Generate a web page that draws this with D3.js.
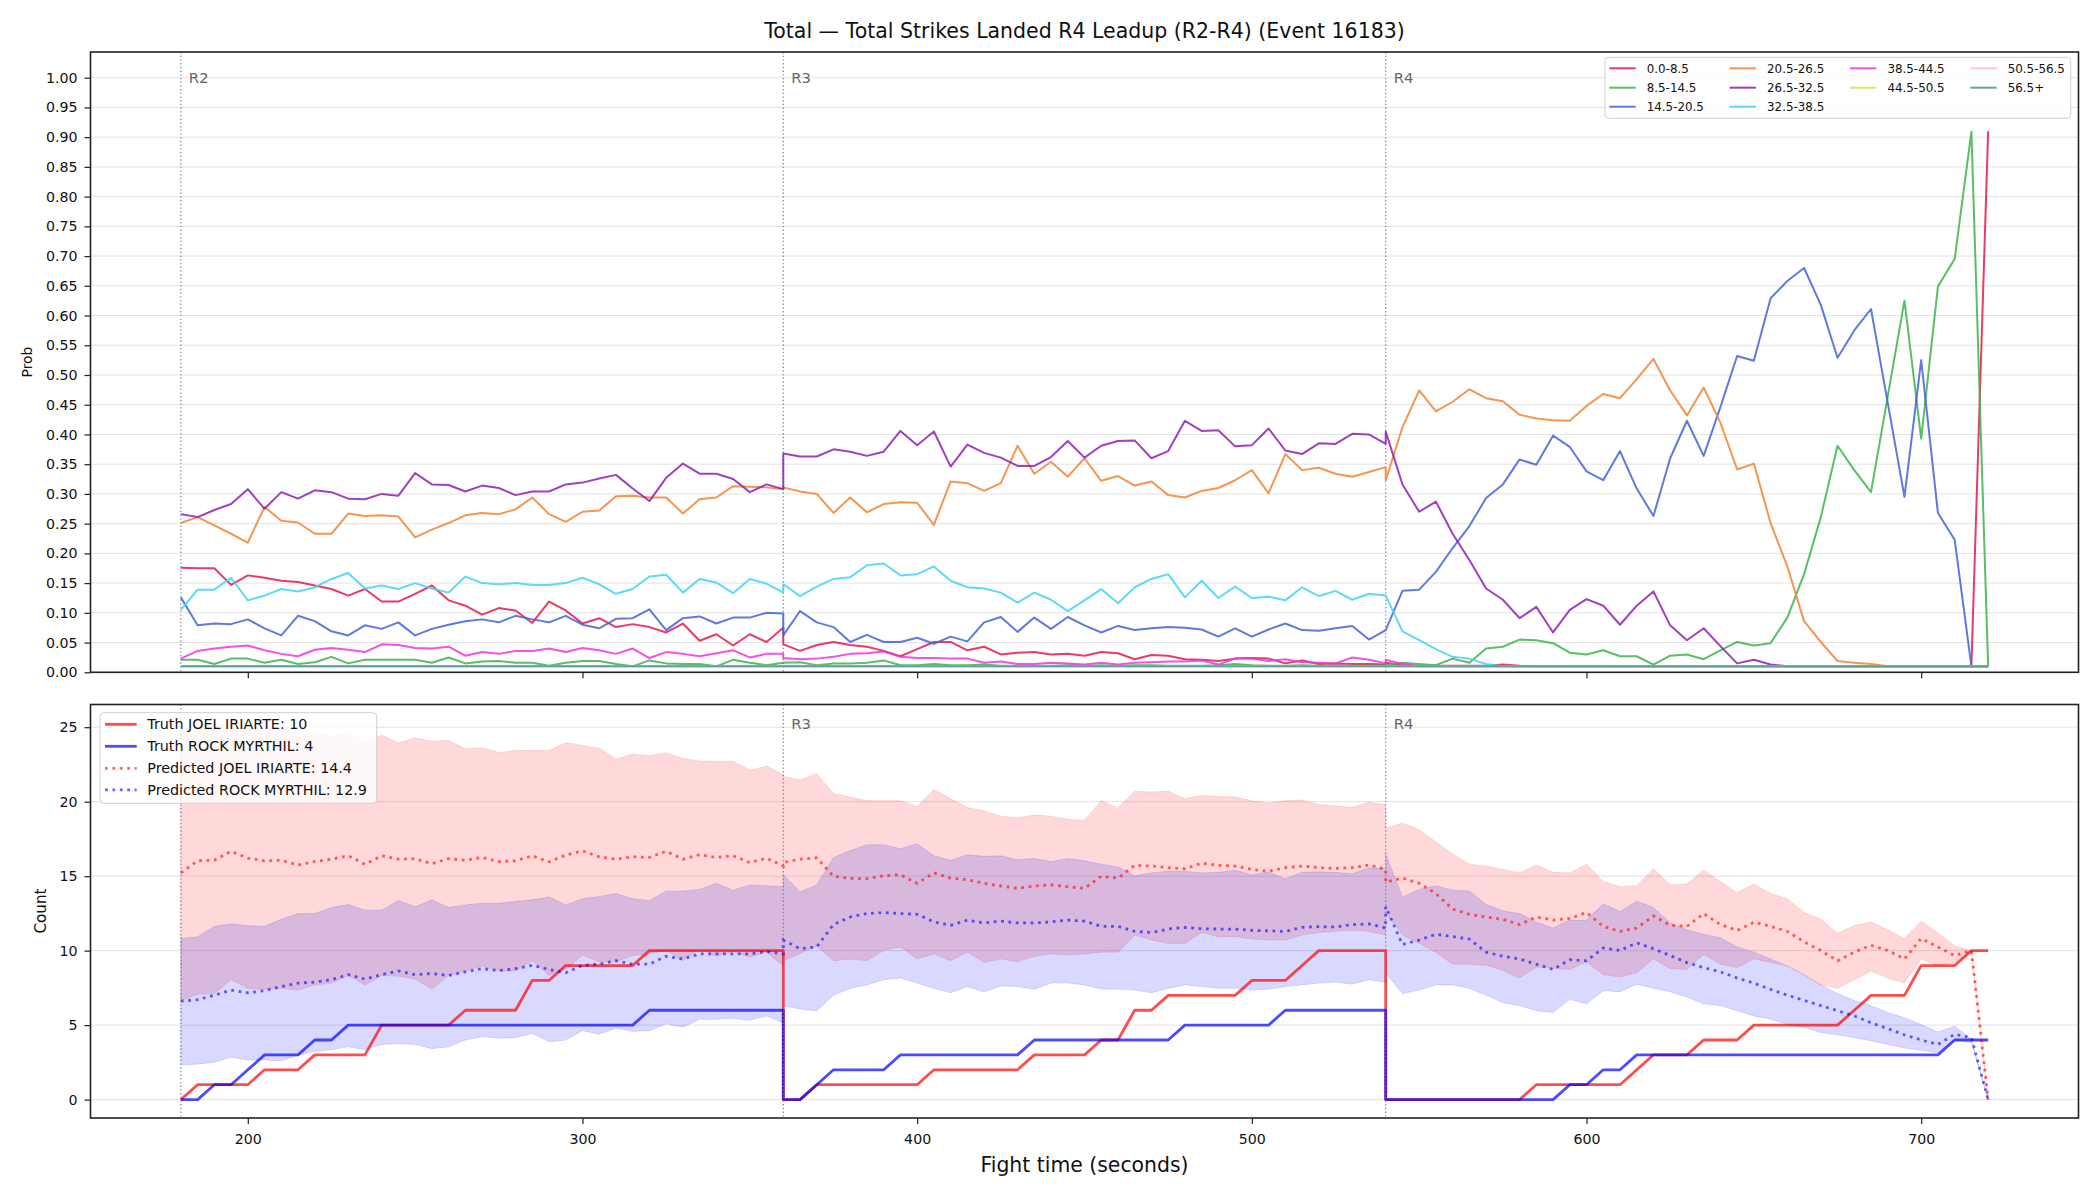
<!DOCTYPE html>
<html><head><meta charset="utf-8">
<script src="https://cdn.jsdelivr.net/npm/d3@7"></script>
<style>
html,body{margin:0;padding:0;background:#fff;}
svg{display:block;font-family:"DejaVu Sans",sans-serif;}
</style></head><body>
<svg id="chart" width="2100" height="1200"></svg>
<script>
// ---------- DATA ----------
const time = [
 180,185,190,195,200,205,210,215,220,225,230,235,240,245,250,255,260,265,270,275,280,285,290,295,300,305,310,315,320,325,330,335,340,345,350,355,360,
 360,365,370,375,380,385,390,395,400,405,410,415,420,425,430,435,440,445,450,455,460,465,470,475,480,485,490,495,500,505,510,515,520,525,530,535,540,
 540,545,550,555,560,565,570,575,580,585,590,595,600,605,610,615,620,625,630,635,640,645,650,655,660,665,670,675,680,685,690,695,700,705,710,715,720];

const binLabels = ["0.0-8.5","8.5-14.5","14.5-20.5","20.5-26.5","26.5-32.5","32.5-38.5","38.5-44.5","44.5-50.5","50.5-56.5","56.5+"];
const binColors = ["#e6194b","#3cb44b","#4363d8","#f58231","#911eb4","#42d4f4","#f032e6","#bfef45","#fabed4","#469990"];

const prob_0_85 = [
 0.176,0.175,0.175,0.147,0.163,0.159,0.154,0.152,0.146,0.140,0.129,0.140,0.119,0.119,0.132,0.146,0.121,0.112,0.097,0.108,0.104,0.083,0.119,0.104,0.082,0.091,0.076,0.081,0.076,0.067,0.082,0.053,0.064,0.045,0.064,0.051,0.075,
 0.047,0.036,0.046,0.051,0.046,0.043,0.036,0.027,0.039,0.051,0.051,0.037,0.043,0.030,0.033,0.034,0.030,0.031,0.028,0.034,0.032,0.022,0.029,0.028,0.022,0.021,0.019,0.023,0.024,0.023,0.015,0.020,0.014,0.015,0.014,0.014,0.013,
 0.016,0.012,0.011,0.011,0.011,0.011,0.011,0.013,0.011,0.010,0.010,0.010,0.010,0.010,0.010,0.010,0.010,0.010,0.010,0.010,0.010,0.010,0.010,0.010,0.010,0.010,0.010,0.010,0.010,0.010,0.010,0.010,0.010,0.010,0.010,0.010,0.910];
const prob_85_145 = [
 0.021,0.021,0.014,0.023,0.023,0.016,0.021,0.014,0.017,0.026,0.015,0.021,0.021,0.021,0.021,0.016,0.025,0.015,0.018,0.019,0.016,0.016,0.011,0.016,0.019,0.019,0.014,0.010,0.020,0.015,0.014,0.014,0.010,0.021,0.016,0.012,0.016,
 0.016,0.017,0.012,0.015,0.015,0.016,0.020,0.012,0.012,0.014,0.012,0.012,0.013,0.011,0.011,0.011,0.011,0.012,0.011,0.012,0.011,0.012,0.012,0.011,0.011,0.011,0.012,0.014,0.012,0.011,0.011,0.012,0.011,0.011,0.011,0.011,0.012,
 0.012,0.016,0.014,0.012,0.023,0.016,0.040,0.043,0.055,0.054,0.049,0.033,0.030,0.037,0.027,0.027,0.013,0.028,0.030,0.022,0.037,0.051,0.045,0.049,0.092,0.165,0.261,0.381,0.340,0.303,0.464,0.625,0.393,0.649,0.695,0.909,0.010];
const prob_145_205 = [
 0.126,0.079,0.082,0.081,0.089,0.074,0.062,0.095,0.086,0.069,0.062,0.079,0.073,0.084,0.062,0.073,0.080,0.086,0.089,0.084,0.095,0.089,0.084,0.095,0.080,0.074,0.090,0.091,0.106,0.071,0.091,0.094,0.082,0.092,0.092,0.100,0.099,
 0.062,0.103,0.084,0.076,0.051,0.063,0.051,0.051,0.058,0.048,0.060,0.052,0.084,0.093,0.068,0.092,0.073,0.093,0.079,0.067,0.078,0.071,0.074,0.076,0.075,0.072,0.060,0.074,0.060,0.072,0.082,0.071,0.070,0.074,0.078,0.055,0.071,
 0.071,0.137,0.139,0.169,0.209,0.246,0.293,0.316,0.358,0.349,0.398,0.379,0.338,0.323,0.372,0.309,0.263,0.360,0.423,0.364,0.446,0.532,0.524,0.629,0.658,0.680,0.618,0.529,0.575,0.611,0.453,0.295,0.525,0.268,0.223,0.010,0.010];
const prob_205_265 = [
 0.251,0.261,0.247,0.233,0.218,0.278,0.255,0.252,0.233,0.233,0.267,0.263,0.264,0.262,0.227,0.240,0.251,0.264,0.268,0.266,0.274,0.294,0.266,0.253,0.270,0.272,0.296,0.297,0.294,0.294,0.267,0.291,0.294,0.313,0.312,0.311,0.308,
 0.311,0.304,0.300,0.268,0.294,0.269,0.283,0.286,0.285,0.248,0.321,0.318,0.305,0.318,0.381,0.334,0.354,0.329,0.360,0.322,0.330,0.314,0.321,0.298,0.294,0.305,0.310,0.323,0.340,0.301,0.367,0.340,0.344,0.334,0.329,0.337,0.345,
 0.323,0.412,0.474,0.439,0.455,0.476,0.461,0.456,0.433,0.427,0.424,0.423,0.448,0.468,0.461,0.493,0.527,0.474,0.432,0.479,0.420,0.341,0.351,0.251,0.178,0.086,0.051,0.019,0.016,0.014,0.010,0.010,0.010,0.010,0.010,0.010,0.010];
const prob_265_325 = [
 0.266,0.261,0.273,0.283,0.308,0.275,0.303,0.292,0.306,0.303,0.292,0.291,0.300,0.297,0.335,0.316,0.315,0.304,0.314,0.310,0.298,0.304,0.304,0.316,0.319,0.326,0.332,0.309,0.288,0.327,0.351,0.334,0.334,0.325,0.303,0.316,0.308,
 0.368,0.363,0.363,0.375,0.371,0.364,0.371,0.406,0.382,0.405,0.346,0.383,0.369,0.361,0.347,0.347,0.362,0.389,0.361,0.381,0.389,0.390,0.360,0.372,0.423,0.406,0.407,0.380,0.382,0.410,0.373,0.367,0.385,0.384,0.401,0.400,0.384,
 0.405,0.316,0.270,0.287,0.233,0.189,0.141,0.122,0.091,0.110,0.067,0.105,0.123,0.112,0.080,0.112,0.136,0.079,0.054,0.074,0.044,0.015,0.021,0.013,0.010,0.010,0.010,0.010,0.010,0.010,0.010,0.010,0.010,0.010,0.010,0.010,0.010];
const prob_325_385 = [
 0.105,0.139,0.139,0.159,0.121,0.129,0.140,0.136,0.143,0.157,0.167,0.141,0.146,0.140,0.150,0.141,0.134,0.161,0.150,0.148,0.150,0.147,0.147,0.150,0.159,0.148,0.132,0.140,0.161,0.164,0.134,0.157,0.151,0.133,0.157,0.149,0.134,
 0.148,0.128,0.144,0.157,0.160,0.180,0.183,0.163,0.165,0.178,0.154,0.143,0.141,0.134,0.117,0.134,0.122,0.103,0.121,0.140,0.116,0.143,0.157,0.165,0.126,0.154,0.125,0.144,0.125,0.127,0.121,0.143,0.128,0.137,0.122,0.132,0.129,
 0.129,0.069,0.054,0.039,0.026,0.023,0.014,0.010,0.010,0.010,0.010,0.010,0.010,0.010,0.010,0.010,0.010,0.010,0.010,0.010,0.010,0.010,0.010,0.010,0.010,0.010,0.010,0.010,0.010,0.010,0.010,0.010,0.010,0.010,0.010,0.010,0.010];
const prob_385_445 = [
 0.023,0.036,0.040,0.043,0.045,0.037,0.031,0.027,0.038,0.041,0.038,0.034,0.047,0.046,0.041,0.040,0.043,0.028,0.034,0.031,0.036,0.036,0.040,0.034,0.041,0.037,0.031,0.040,0.024,0.034,0.031,0.027,0.032,0.037,0.025,0.031,0.031,
 0.024,0.022,0.023,0.026,0.031,0.032,0.035,0.026,0.024,0.024,0.023,0.023,0.016,0.018,0.014,0.014,0.016,0.015,0.013,0.016,0.013,0.016,0.017,0.018,0.018,0.020,0.013,0.023,0.023,0.019,0.022,0.017,0.016,0.015,0.025,0.021,0.015,
 0.021,0.014,0.010,0.010,0.010,0.010,0.010,0.010,0.010,0.010,0.010,0.010,0.010,0.010,0.010,0.010,0.010,0.010,0.010,0.010,0.010,0.010,0.010,0.010,0.010,0.010,0.010,0.010,0.010,0.010,0.010,0.010,0.010,0.010,0.010,0.010,0.010];
const prob_445_505 = [
 0.01,0.01,0.01,0.01,0.01,0.01,0.01,0.01,0.01,0.01,0.01,0.01,0.01,0.01,0.01,0.01,0.01,0.01,0.01,0.01,0.01,0.01,0.01,0.01,0.01,0.01,0.01,0.01,0.01,0.01,0.01,0.01,0.01,0.01,0.01,0.01,0.01,
 0.01,0.01,0.01,0.01,0.01,0.01,0.01,0.01,0.01,0.01,0.01,0.01,0.01,0.01,0.01,0.01,0.01,0.01,0.01,0.01,0.01,0.01,0.01,0.01,0.01,0.01,0.01,0.01,0.01,0.01,0.01,0.01,0.01,0.01,0.01,0.01,0.01,
 0.01,0.01,0.01,0.01,0.01,0.01,0.01,0.01,0.01,0.01,0.01,0.01,0.01,0.01,0.01,0.01,0.01,0.01,0.01,0.01,0.01,0.01,0.01,0.01,0.01,0.01,0.01,0.01,0.01,0.01,0.01,0.01,0.01,0.01,0.01,0.01,0.01];
const prob_505_565 = [
 0.01,0.01,0.01,0.01,0.01,0.01,0.01,0.01,0.01,0.01,0.01,0.01,0.01,0.01,0.01,0.01,0.01,0.01,0.01,0.01,0.01,0.01,0.01,0.01,0.01,0.01,0.01,0.01,0.01,0.01,0.01,0.01,0.01,0.01,0.01,0.01,0.01,
 0.01,0.01,0.01,0.01,0.01,0.01,0.01,0.01,0.01,0.01,0.01,0.01,0.01,0.01,0.01,0.01,0.01,0.01,0.01,0.01,0.01,0.01,0.01,0.01,0.01,0.01,0.01,0.01,0.01,0.01,0.01,0.01,0.01,0.01,0.01,0.01,0.01,
 0.01,0.01,0.01,0.01,0.01,0.01,0.01,0.01,0.01,0.01,0.01,0.01,0.01,0.01,0.01,0.01,0.01,0.01,0.01,0.01,0.01,0.01,0.01,0.01,0.01,0.01,0.01,0.01,0.01,0.01,0.01,0.01,0.01,0.01,0.01,0.01,0.01];
const prob_565p = [
 0.01,0.01,0.01,0.01,0.01,0.01,0.01,0.01,0.01,0.01,0.01,0.01,0.01,0.01,0.01,0.01,0.01,0.01,0.01,0.01,0.01,0.01,0.01,0.01,0.01,0.01,0.01,0.01,0.01,0.01,0.01,0.01,0.01,0.01,0.01,0.01,0.01,
 0.01,0.01,0.01,0.01,0.01,0.01,0.01,0.01,0.01,0.01,0.01,0.01,0.01,0.01,0.01,0.01,0.01,0.01,0.01,0.01,0.01,0.01,0.01,0.01,0.01,0.01,0.01,0.01,0.01,0.01,0.01,0.01,0.01,0.01,0.01,0.01,0.01,
 0.01,0.01,0.01,0.01,0.01,0.01,0.01,0.01,0.01,0.01,0.01,0.01,0.01,0.01,0.01,0.01,0.01,0.01,0.01,0.01,0.01,0.01,0.01,0.01,0.01,0.01,0.01,0.01,0.01,0.01,0.01,0.01,0.01,0.01,0.01,0.01,0.01];

const truthJoel = [
 0,1,1,1,1,2,2,2,3,3,3,3,5,5,5,5,5,6,6,6,6,8,8,9,9,9,9,9,10,10,10,10,10,10,10,10,10,
 0,0,1,1,1,1,1,1,1,2,2,2,2,2,2,3,3,3,3,4,4,6,6,7,7,7,7,7,8,8,8,9,10,10,10,10,10,
 0,0,0,0,0,0,0,0,0,1,1,1,1,1,1,2,3,3,3,4,4,4,5,5,5,5,5,5,6,7,7,7,9,9,9,10,10];
const truthRock = [
 0,0,1,1,2,3,3,3,4,4,5,5,5,5,5,5,5,5,5,5,5,5,5,5,5,5,5,5,6,6,6,6,6,6,6,6,6,
 0,0,1,2,2,2,2,3,3,3,3,3,3,3,3,4,4,4,4,4,4,4,4,4,5,5,5,5,5,5,6,6,6,6,6,6,6,
 0,0,0,0,0,0,0,0,0,0,0,1,1,2,2,3,3,3,3,3,3,3,3,3,3,3,3,3,3,3,3,3,3,3,4,4,4];
const predJoel = [
 15.22,16.03,16.07,16.67,16.21,16.03,16.07,15.75,15.98,16.14,16.37,15.80,16.37,16.14,16.17,15.84,16.17,16.07,16.26,15.98,16.03,16.37,15.96,16.42,16.70,16.30,16.14,16.30,16.26,16.67,16.14,16.44,16.26,16.37,15.91,16.21,15.68,
 15.91,16.14,16.23,14.99,14.85,14.83,15.03,15.10,14.52,15.22,14.87,14.76,14.52,14.34,14.18,14.34,14.41,14.29,14.18,14.99,14.87,15.73,15.68,15.57,15.50,15.87,15.73,15.68,15.45,15.33,15.57,15.68,15.57,15.52,15.57,15.75,15.45,
 14.60,14.87,14.52,13.83,12.79,12.44,12.26,12.10,11.75,12.26,12.05,12.16,12.56,11.63,11.29,11.52,12.33,11.70,11.63,12.49,11.75,11.36,11.91,11.63,11.29,10.59,10.01,9.32,9.90,10.36,10.01,9.44,10.82,10.25,9.67,10.01,0];
const predRock = [
 6.61,6.71,7.01,7.35,7.17,7.31,7.59,7.82,7.89,8.05,8.39,8.09,8.39,8.63,8.39,8.46,8.33,8.58,8.79,8.67,8.79,9.02,8.74,8.51,9.02,9.09,9.32,9.09,9.09,9.62,9.44,9.78,9.78,9.78,9.78,9.94,9.78,
 10.71,10.13,10.25,11.75,12.26,12.49,12.56,12.49,12.44,11.93,11.70,12.05,11.86,11.98,11.86,11.86,11.93,12.05,11.98,11.63,11.63,11.29,11.22,11.45,11.56,11.47,11.45,11.45,11.36,11.33,11.29,11.56,11.61,11.59,11.75,11.79,11.52,
 12.95,10.41,10.71,11.10,10.94,10.78,9.90,9.62,9.44,9.09,8.74,9.39,9.32,10.18,10.01,10.52,10.13,9.67,9.20,8.86,8.58,8.16,7.82,7.40,7.01,6.66,6.31,5.97,5.62,5.16,4.76,4.35,4.00,3.70,4.39,4.16,0];
const joelHi = [
 24.5,24.9,25.26,25.1,24.9,24.8,24.9,24.6,24.6,24.4,24.6,24.0,24.47,23.94,24.28,24.05,24.12,23.54,23.61,23.31,23.43,23.43,23.43,23.96,23.77,23.59,22.85,23.20,23.08,23.27,22.90,22.73,22.71,22.71,22.11,22.39,21.81,
 21.69,21.46,21.88,20.54,20.31,20.07,20.07,20.07,19.66,20.81,20.19,19.61,19.38,19.03,18.92,19.10,19.03,18.80,18.76,20.07,19.56,20.70,20.65,20.70,20.19,20.42,20.35,20.31,20.07,19.91,20.07,20.12,19.80,19.73,19.61,19.96,19.80,
 18.20,18.57,18.11,17.30,16.49,15.80,15.68,15.45,15.22,15.73,15.26,15.22,15.80,14.64,14.29,14.36,15.49,14.41,14.48,15.40,14.64,13.88,14.48,13.83,13.48,12.56,12.10,11.17,11.68,11.93,11.40,10.82,11.98,11.17,10.31,10.01,0];
const joelLo = [
 6.66,7.08,7.12,8.05,7.47,7.40,7.47,7.35,7.70,7.82,8.33,7.70,8.33,8.28,8.09,7.40,8.33,8.63,8.97,8.63,8.63,9.32,8.33,8.74,9.71,9.25,9.25,9.67,9.78,10.01,9.32,10.13,9.62,9.94,9.55,9.90,8.97,
 9.30,9.80,10.30,9.32,9.44,9.32,10.01,10.25,9.44,9.78,9.32,9.90,9.20,9.44,9.25,9.62,9.78,9.71,9.78,9.90,9.90,11.05,10.71,10.48,10.48,11.22,10.94,10.94,10.78,10.71,10.71,11.05,11.22,11.29,11.38,11.29,11.05,
 12.50,11.05,10.48,9.90,9.09,9.09,9.02,8.67,8.16,8.90,8.81,8.74,9.25,8.39,8.23,8.51,9.44,8.79,8.74,9.74,9.09,8.86,9.44,9.20,8.97,8.39,7.70,7.47,8.05,8.63,8.16,7.82,9.44,8.97,9.20,9.94,0];
const rockHi = [
 10.82,10.94,11.63,11.79,11.68,11.63,12.10,12.49,12.49,12.90,13.09,12.72,12.72,13.37,12.95,13.41,12.90,13.07,13.18,13.18,13.30,13.41,13.60,13.07,13.48,13.64,13.83,13.48,13.37,13.99,13.99,14.11,14.52,14.06,14.41,14.36,14.29,
 15.10,13.95,14.41,16.26,16.72,17.11,17.11,16.84,17.18,16.37,16.07,16.44,16.33,16.37,16.10,16.19,15.98,16.19,16.03,15.80,15.61,15.03,15.22,15.33,15.33,15.22,15.26,15.40,15.10,15.29,14.82,15.26,15.29,15.26,15.17,15.56,15.52,
 16.49,13.60,14.11,14.36,14.06,14.01,13.09,12.67,12.49,11.93,11.52,12.05,12.05,13.14,12.63,13.32,12.90,11.86,11.40,11.10,10.87,10.25,9.90,9.44,8.97,8.39,7.70,7.12,6.66,6.31,5.85,5.50,5.04,4.53,4.93,4.05,0];
const rockLo = [
 2.34,2.38,2.50,2.84,2.66,2.66,2.61,2.96,3.24,3.35,3.54,3.35,3.70,3.77,3.70,3.42,3.54,4.00,4.23,4.12,4.16,4.46,3.89,4.00,4.63,4.39,4.81,4.58,4.63,5.09,4.86,5.39,5.39,5.46,5.32,5.62,5.16,
 6.30,6.08,5.97,7.01,7.47,7.70,8.05,8.16,7.82,7.47,7.17,7.59,7.24,7.63,7.59,7.40,7.82,7.82,7.70,7.42,7.42,7.35,7.17,7.47,7.70,7.59,7.47,7.47,7.35,7.42,7.59,7.70,7.82,7.89,7.75,8.05,7.86,
 8.50,7.12,7.35,7.70,7.70,7.47,7.01,6.50,6.31,5.97,5.85,6.73,6.43,7.31,7.24,7.75,7.47,7.24,6.89,6.43,6.31,5.97,5.62,5.39,5.04,4.86,4.51,4.35,4.16,3.95,3.70,3.47,3.31,3.15,4.00,3.84,0];

const roundStarts = [180,360,540];
const roundNames = ["R2","R3","R4"];
const probTicks = [0,0.05,0.10,0.15,0.20,0.25,0.30,0.35,0.40,0.45,0.50,0.55,0.60,0.65,0.70,0.75,0.80,0.85,0.90,0.95,1.00];
const countTicks = [0,5,10,15,20,25];
const timeTicks = [200,300,400,500,600,700];
const titleText = "Total \u2014 Total Strikes Landed R4 Leadup (R2-R4) (Event 16183)";
const bottomLegend = ["Truth JOEL IRIARTE: 10","Truth ROCK MYRTHIL: 4","Predicted JOEL IRIARTE: 14.4","Predicted ROCK MYRTHIL: 12.9"];

// ---------- LAYOUT ----------
const L = 90.5, R = 2078.5;
const topT = 52, topB = 672.3, botT = 704.5, botB = 1118;
const FONT = "DejaVu Sans";
const svg = d3.select("#chart");

const x = d3.scaleLinear().domain([153, 747]).range([L, R]);
const yP = d3.scaleLinear().domain([0, 1.0432]).range([topB, topT]);
const yC = d3.scaleLinear().domain([-1.235, 26.524]).range([botB, botT]);

const defs = svg.append("defs");
defs.append("clipPath").attr("id","clipTop").append("rect").attr("x",L).attr("y",topT).attr("width",R-L).attr("height",topB-topT);
defs.append("clipPath").attr("id","clipBot").append("rect").attr("x",L).attr("y",botT).attr("width",R-L).attr("height",botB-botT);

svg.append("text").attr("x",(L+R)/2).attr("y",31).attr("dy","0.36em")
  .attr("text-anchor","middle").attr("font-size",20.5).attr("fill","#111").text(titleText);

function grid(y, ticks) {
  svg.append("g").selectAll("line").data(ticks).join("line")
    .attr("x1",L).attr("x2",R).attr("y1",d=>y(d)).attr("y2",d=>y(d))
    .attr("stroke","#e2e2e2").attr("stroke-width",1);
}
function drawAxes(y, ticks, fmt, top, bottom, showX) {
  const ay = svg.append("g").attr("transform",`translate(${L},0)`)
    .call(d3.axisLeft(y).tickValues(ticks).tickFormat(fmt).tickSize(6).tickPadding(7));
  ay.select(".domain").remove();
  ay.selectAll("line").attr("stroke","#222").attr("stroke-width",1.2);
  ay.selectAll("text").attr("font-size",14.2).attr("fill","#111").attr("font-family",FONT);
  const ax = svg.append("g").attr("transform",`translate(0,${bottom})`)
    .call(d3.axisBottom(x).tickValues(timeTicks).tickFormat(showX ? d3.format("d") : () => "").tickSize(6).tickPadding(9.5));
  ax.select(".domain").remove();
  ax.selectAll("line").attr("stroke","#222").attr("stroke-width",1.2);
  ax.selectAll("text").attr("font-size",14.2).attr("fill","#111").attr("font-family",FONT);
  svg.append("rect").attr("x",L).attr("y",top).attr("width",R-L).attr("height",bottom-top)
    .attr("fill","none").attr("stroke","#222").attr("stroke-width",1.6);
}
function roundLines(top, bottom, labelY, clipId, labelRounds) {
  const g = svg.append("g").attr("clip-path",`url(#${clipId})`);
  g.selectAll("line").data(roundStarts).join("line")
    .attr("x1",d=>x(d)).attr("x2",d=>x(d)).attr("y1",top).attr("y2",bottom)
    .attr("stroke","#7a7a7a").attr("stroke-width",1.1).attr("stroke-dasharray","1.4,2.3");
  g.selectAll("text").data(labelRounds).join("text")
    .attr("x",d=>x(roundStarts[d])+8).attr("y",labelY).attr("dy","0.36em")
    .attr("font-size",14.8).attr("fill","#666").text(d=>roundNames[d]);
}

// ---------- TOP PANEL ----------
grid(yP, probTicks);
roundLines(topT, topB, 77.7, "clipTop", [0,1,2]);
const probSeries = [prob_0_85, prob_85_145, prob_145_205, prob_205_265, prob_265_325, prob_325_385, prob_385_445, prob_445_505, prob_505_565, prob_565p];
const lineP = d3.line().x((d,i)=>x(time[i])).y(d=>yP(d));
const gTop = svg.append("g").attr("clip-path","url(#clipTop)");
probSeries.forEach((s,k)=>{
  gTop.append("path").attr("d",lineP(s)).attr("fill","none")
    .attr("stroke",binColors[k]).attr("stroke-opacity",0.85).attr("stroke-width",2)
    .attr("stroke-linejoin","round");
});
drawAxes(yP, probTicks, d3.format(".2f"), topT, topB, false);
svg.append("text").attr("transform",`translate(26.8,362) rotate(-90)`).attr("text-anchor","middle")
  .attr("dy","0.36em").attr("font-size",13.9).attr("fill","#111").text("Prob");

(function(){
  const g = svg.append("g");
  g.append("rect").attr("x",1605).attr("y",57.3).attr("width",465.7).attr("height",61)
    .attr("rx",3.5).attr("fill","#fff").attr("fill-opacity",0.8).attr("stroke","#cfcfcf").attr("stroke-width",1);
  const colX = [1609.3,1729.6,1850,1970.3];
  const rowY = [68.3,87.7,106.7];
  const perCol = [3,3,2,2];
  let k = 0;
  perCol.forEach((n,c)=>{
    for (let r=0;r<n;r++,k++){
      g.append("line").attr("x1",colX[c]).attr("x2",colX[c]+26.4).attr("y1",rowY[r]).attr("y2",rowY[r])
        .attr("stroke",binColors[k]).attr("stroke-opacity",0.85).attr("stroke-width",2);
      g.append("text").attr("x",colX[c]+37.4).attr("y",rowY[r]).attr("dy","0.36em")
        .attr("font-size",11.9).attr("fill","#111").text(binLabels[k]);
    }
  });
})();

// ---------- BOTTOM PANEL ----------
grid(yC, countTicks);
const gBot = svg.append("g").attr("clip-path","url(#clipBot)");
const areaJ = d3.area().x((d,i)=>x(time[i])).y0((d,i)=>yC(joelLo[i])).y1((d,i)=>yC(joelHi[i]));
const areaR = d3.area().x((d,i)=>x(time[i])).y0((d,i)=>yC(rockLo[i])).y1((d,i)=>yC(rockHi[i]));
gBot.append("path").attr("d",areaJ(time)).attr("fill","#ff0000").attr("fill-opacity",0.15)
  .attr("stroke","#ff0000").attr("stroke-opacity",0.12).attr("stroke-width",1);
gBot.append("path").attr("d",areaR(time)).attr("fill","#0000ff").attr("fill-opacity",0.15)
  .attr("stroke","#0000ff").attr("stroke-opacity",0.12).attr("stroke-width",1);
roundLines(botT, botB, 724, "clipBot", [1,2]);
const lineC = d3.line().x((d,i)=>x(time[i])).y(d=>yC(d));
gBot.append("path").attr("d",lineC(truthJoel)).attr("fill","none").attr("stroke","#ff0000")
  .attr("stroke-opacity",0.7).attr("stroke-width",2.8).attr("stroke-linejoin","round");
gBot.append("path").attr("d",lineC(truthRock)).attr("fill","none").attr("stroke","#0000ff")
  .attr("stroke-opacity",0.7).attr("stroke-width",2.8).attr("stroke-linejoin","round");
gBot.append("path").attr("d",lineC(predJoel)).attr("fill","none").attr("stroke","#ff0000")
  .attr("stroke-opacity",0.6).attr("stroke-width",2.8).attr("stroke-dasharray","2.8,4.6");
gBot.append("path").attr("d",lineC(predRock)).attr("fill","none").attr("stroke","#0000ff")
  .attr("stroke-opacity",0.6).attr("stroke-width",2.8).attr("stroke-dasharray","2.8,4.6");
drawAxes(yC, countTicks, d3.format("d"), botT, botB, true);
svg.append("text").attr("transform",`translate(40.2,911) rotate(-90)`).attr("text-anchor","middle")
  .attr("dy","0.36em").attr("font-size",15.2).attr("fill","#111").text("Count");
svg.append("text").attr("x",(L+R)/2).attr("y",1165).attr("dy","0.36em").attr("text-anchor","middle")
  .attr("font-size",20.4).attr("fill","#111").text("Fight time (seconds)");

(function(){
  const g = svg.append("g");
  g.append("rect").attr("x",100).attr("y",712.7).attr("width",276.7).attr("height",90.6)
    .attr("rx",4).attr("fill","#fff").attr("fill-opacity",0.8).attr("stroke","#cfcfcf").attr("stroke-width",1);
  const rowY = [724.3,746.3,768.3,789.8];
  const cols = ["#ff0000","#0000ff","#ff0000","#0000ff"];
  rowY.forEach((yy,i)=>{
    const ln = g.append("line").attr("x1",105).attr("x2",136.7).attr("y1",yy).attr("y2",yy)
      .attr("stroke",cols[i]).attr("stroke-width",2.8).attr("stroke-opacity", i<2?0.7:0.6);
    if (i>=2) ln.attr("stroke-dasharray","2.8,4.6");
    g.append("text").attr("x",147.3).attr("y",yy).attr("dy","0.36em").attr("font-size",14.3)
      .attr("fill","#111").text(bottomLegend[i]);
  });
})();
</script>
</body></html>
